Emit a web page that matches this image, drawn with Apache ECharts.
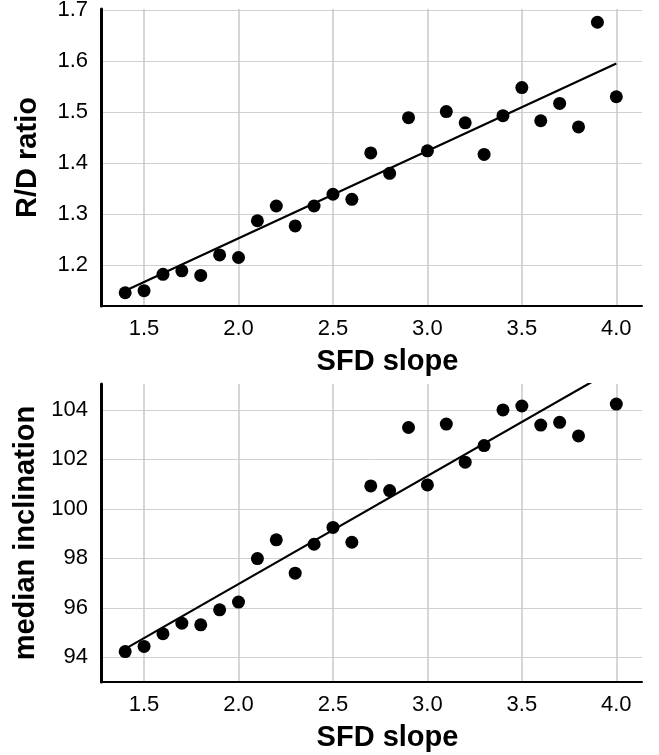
<!DOCTYPE html>
<html>
<head>
<meta charset="utf-8">
<script src="https://cdn.jsdelivr.net/npm/echarts@6/dist/echarts.min.js"></script>
<style>
  html, body { margin: 0; padding: 0; background: #fff; }
  #chart { width: 659px; height: 755px; }
</style>
</head>
<body>
<div id="chart"></div>
<script>
// SFD slope values shared by both panels
var sfdSlope = [1.4, 1.5, 1.6, 1.7, 1.8, 1.9, 2.0, 2.1, 2.2, 2.3, 2.4, 2.5, 2.6, 2.7,
                2.8, 2.9, 3.0, 3.1, 3.2, 3.3, 3.4, 3.5, 3.6, 3.7, 3.8, 3.9, 4.0];
var rdRatio = [1.146, 1.150, 1.182, 1.189, 1.180, 1.220, 1.215, 1.287, 1.316, 1.277, 1.316, 1.339, 1.329, 1.420,
               1.380, 1.489, 1.424, 1.501, 1.479, 1.417, 1.493, 1.548, 1.483, 1.517, 1.471, 1.676, 1.530];
// 3.9 is off the top of the lower panel
var medianInclination = [94.23, 94.44, 94.95, 95.38, 95.31, 95.92, 96.23, 97.99, 98.75, 97.40, 98.57, 99.25, 98.65, 100.93,
                         100.74, 103.29, 100.97, 103.43, 101.89, 102.56, 104.00, 104.16, 103.39, 103.50, 102.95, null, 104.24];
// fitted lines, end points
var rdFitX = [1.4, 4.0];
var rdFitY = [1.150, 1.595];
var incFitX = [1.4, 4.0];
var incFitY = [94.34, 105.7];

var xTicks = [1.5, 2.0, 2.5, 3.0, 3.5, 4.0];
var rdTicks = [1.2, 1.3, 1.4, 1.5, 1.6, 1.7];
var incTicks = [94, 96, 98, 100, 102, 104];

var font = 'Liberation Sans, Arial, Helvetica, sans-serif';

function pairs(xs, ys){
    var out = []
    xs.forEach(function(x, i){
        if (ys[i] !== null) out.push([x, ys[i]])
    })
    return out
}

function xAxisOpt(idx){
    return {
        gridIndex: idx,
        type: 'value',
        min: 1.272,
        max: 4.136,
        name: 'SFD slope',
        nameLocation: 'middle',
        nameGap: 41,
        nameTextStyle: { fontFamily: font, fontSize: 29, fontWeight: 'bold', color: '#000', padding: [0, 0, 0, 32] },
        axisLine: { show: true, onZero: false, lineStyle: { color: '#000', width: 2 } },
        axisTick: { show: false, customValues: xTicks },
        axisLabel: {
            customValues: xTicks,
            margin: 12,
            fontFamily: font, fontSize: 22, color: '#000',
            formatter: function(v){ return v.toFixed(1) }
        },
        splitLine: { show: true, lineStyle: { color: '#c8c8c8', width: 1.5 } }
    }
}

function yAxisOpt(idx, min, max, ticks, name, gap, digits){
    return {
        gridIndex: idx,
        type: 'value',
        min: min,
        max: max,
        name: name,
        nameLocation: 'middle',
        nameGap: gap,
        nameTextStyle: { fontFamily: font, fontSize: 29, fontWeight: 'bold', color: '#000' },
        axisLine: { show: true, onZero: false, lineStyle: { color: '#000', width: 3 } },
        axisTick: { show: false, customValues: ticks },
        axisLabel: {
            customValues: ticks,
            margin: 13,
            fontFamily: font, fontSize: 22, color: '#000',
            formatter: function(v){ return v.toFixed(digits) }
        },
        splitLine: { show: true, lineStyle: { color: '#d0d0d0', width: 1 } }
    }
}

var chart = echarts.init(document.getElementById('chart'), null, { renderer: 'canvas' })
chart.setOption({
    animation: false,
    backgroundColor: '#fff',
    grid: [
        { left: 101, top: 9, width: 541, height: 297, outerBoundsMode: 'none', containLabel: false },
        { left: 101, top: 384, width: 541, height: 298, outerBoundsMode: 'none', containLabel: false }
    ],
    xAxis: [ xAxisOpt(0), xAxisOpt(1) ],
    yAxis: [
        yAxisOpt(0, 1.12, 1.702, rdTicks, 'R/D ratio', 59, 1),
        yAxisOpt(1, 93.0, 105.05, incTicks, 'median inclination', 50, 0)
    ],
    series: [
        {
            type: 'line', xAxisIndex: 0, yAxisIndex: 0,
            data: pairs(rdFitX, rdFitY),
            showSymbol: false, clip: true,
            lineStyle: { color: '#000', width: 2.2 }
        },
        {
            type: 'scatter', xAxisIndex: 0, yAxisIndex: 0,
            data: pairs(sfdSlope, rdRatio),
            symbolSize: 13,
            itemStyle: { color: '#000', opacity: 1 }
        },
        {
            type: 'line', xAxisIndex: 1, yAxisIndex: 1,
            data: pairs(incFitX, incFitY),
            showSymbol: false, clip: true,
            lineStyle: { color: '#000', width: 2.2 }
        },
        {
            type: 'scatter', xAxisIndex: 1, yAxisIndex: 1,
            data: pairs(sfdSlope, medianInclination),
            symbolSize: 13,
            itemStyle: { color: '#000', opacity: 1 }
        }
    ]
})
</script>
</body>
</html>
